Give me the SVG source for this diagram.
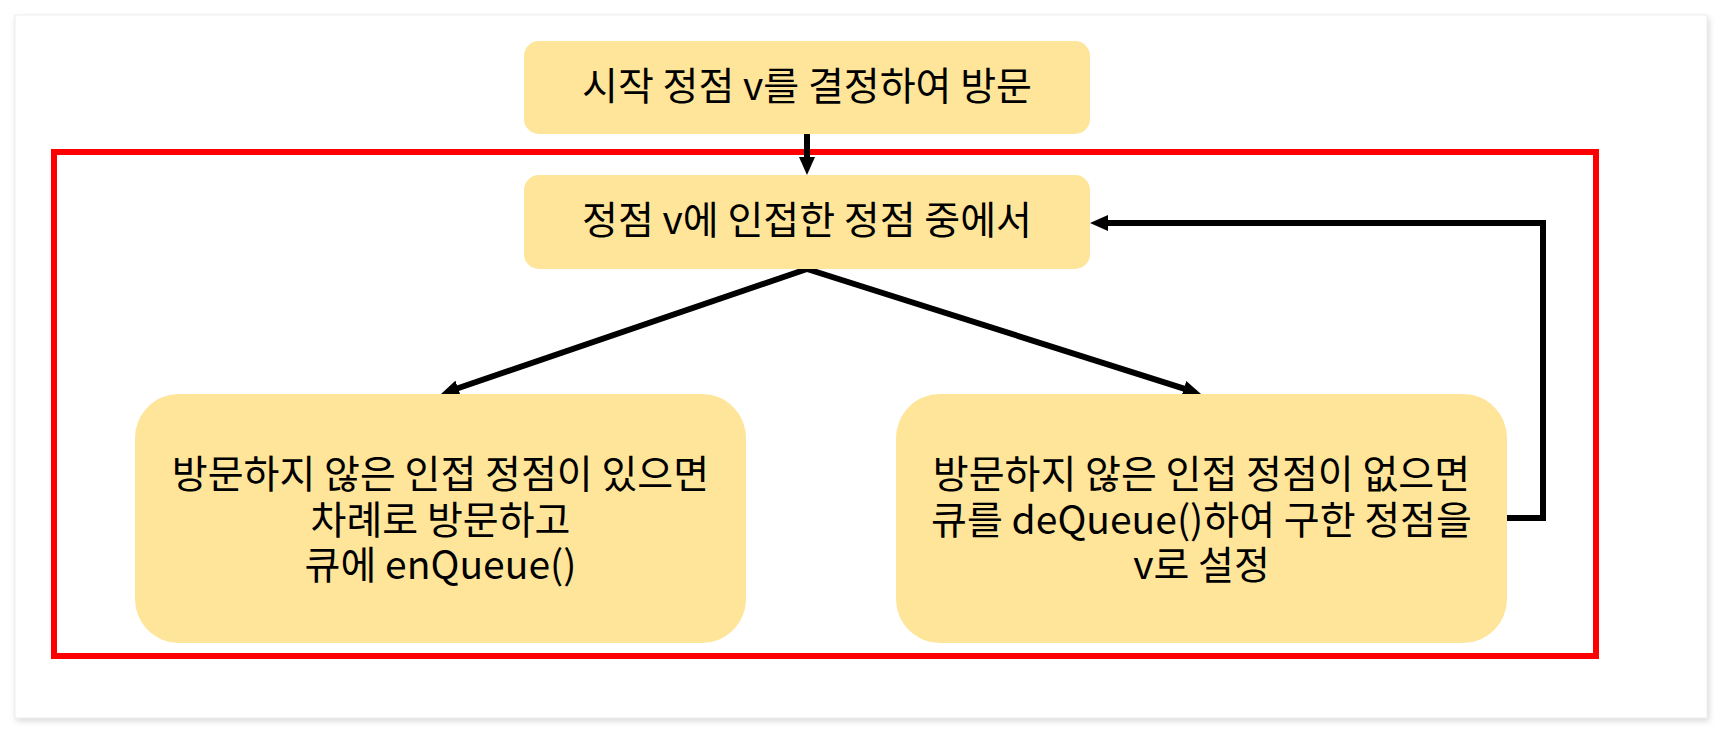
<svg xmlns="http://www.w3.org/2000/svg" width="1722" height="734" viewBox="0 0 1722 734">
<defs>
<filter id="sh" x="-5%" y="-5%" width="110%" height="110%">
<feGaussianBlur stdDeviation="3"/>
</filter>
<marker id="ah" markerUnits="userSpaceOnUse" markerWidth="18" markerHeight="16" refX="1" refY="8" orient="auto">
<path d="M0,0 L18,8 L0,16 z" fill="#000"/>
</marker>
<style>
.box{fill:#FFE599;}
.t{font-family:"Noto Sans CJK KR","Noto Sans",sans-serif;font-size:39px;fill:#000;text-anchor:middle;}
.c{stroke:#000;stroke-width:6;fill:none;}
</style>
</defs>
<rect x="0" y="0" width="1722" height="734" fill="#ffffff"/>
<rect x="16" y="18" width="1693" height="703" fill="#d8d8d8" filter="url(#sh)"/>
<rect x="15" y="15" width="1692" height="703" fill="#ffffff" stroke="#eeeeee" stroke-width="1"/>
<g id="loop-frame">
<rect x="54" y="152" width="1542" height="504" fill="none" stroke="#ff0000" stroke-width="6"/>
</g>
<g id="connectors">
<line class="c" x1="807" y1="134" x2="807" y2="158" marker-end="url(#ah)"/>
<line class="c" x1="807" y1="269" x2="457.1" y2="388.5" marker-end="url(#ah)"/>
<line class="c" x1="807" y1="269" x2="1184.8" y2="388.9" marker-end="url(#ah)"/>
<polyline class="c" points="1507,518 1543,518 1543,223 1107,223" marker-end="url(#ah)"/>
</g>
<g id="start">
<rect class="box" x="524" y="41" width="566" height="93" rx="15"/>
<text class="t" x="807" y="100">시작 정점 v를 결정하여 방문</text>
</g>
<g id="adjacent">
<rect class="box" x="524" y="175" width="566" height="94" rx="15"/>
<text class="t" x="807" y="234">정점 v에 인접한 정점 중에서</text>
</g>
<g id="enqueue">
<rect class="box" x="135" y="394" width="611" height="249" rx="44"/>
<text class="t" x="440.5" y="488">방문하지 않은 인접 정점이 있으면</text>
<text class="t" x="440.5" y="534">차례로 방문하고</text>
<text class="t" x="440.5" y="579">큐에 enQueue()</text>
</g>
<g id="dequeue">
<rect class="box" x="896" y="394" width="611" height="249" rx="44"/>
<text class="t" x="1201.5" y="488">방문하지 않은 인접 정점이 없으면</text>
<text class="t" x="1201.5" y="534">큐를 deQueue()하여 구한 정점을</text>
<text class="t" x="1201.5" y="579">v로 설정</text>
</g>
</svg>
